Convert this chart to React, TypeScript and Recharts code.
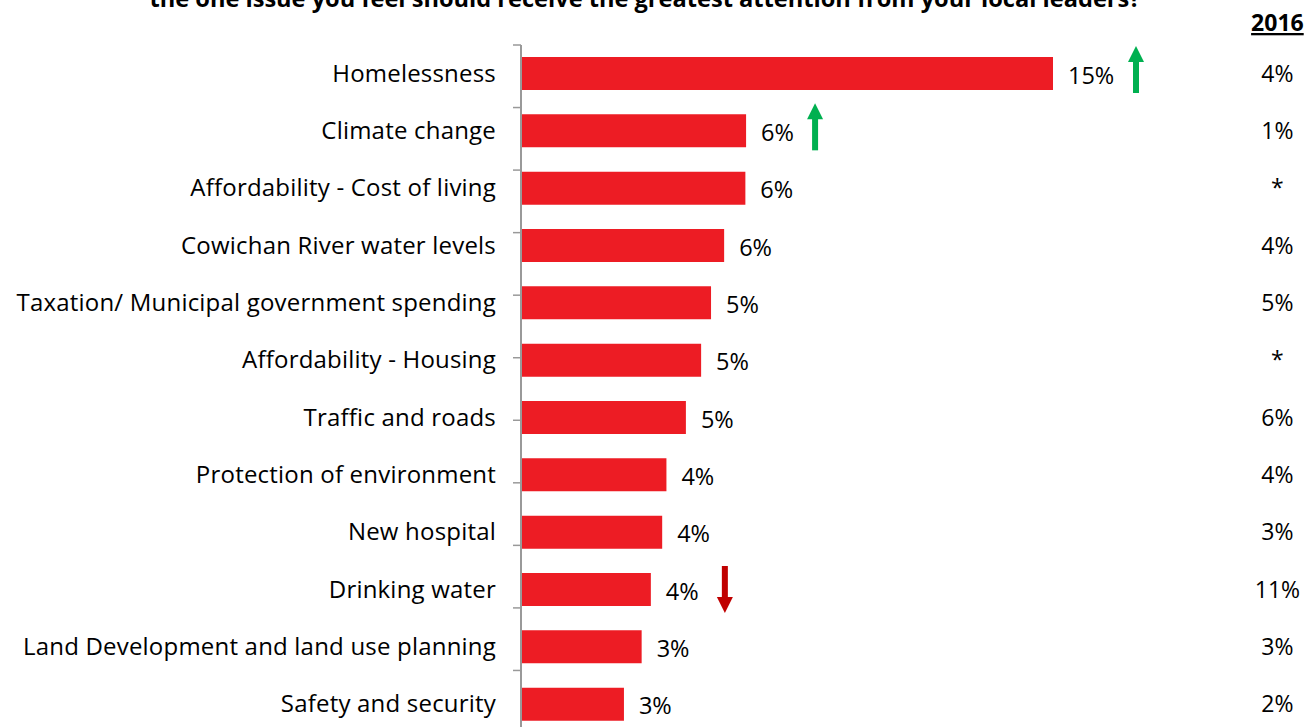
import React from 'react';
import { BarChart, Bar, XAxis, YAxis, LabelList, Label } from 'recharts';

const categories = [
  'Homelessness',
  'Climate change',
  'Affordability - Cost of living',
  'Cowichan River water levels',
  'Taxation/ Municipal government spending',
  'Affordability - Housing',
  'Traffic and roads',
  'Protection of environment',
  'New hospital',
  'Drinking water',
  'Land Development and land use planning',
  'Safety and security',
];
const currentValues = [15.0, 6.33, 6.31, 5.71, 5.34, 5.06, 4.63, 4.08, 3.96, 3.64, 3.38, 2.88];
const values2016 = ['4%', '1%', '*', '4%', '5%', '*', '6%', '4%', '3%', '11%', '3%', '2%'];
const trends = ['up', 'up', '', '', '', '', '', '', '', 'down', '', ''];
const boundaryTicks = [0, 1, 2, 3, 4, 5, 6, 7, 8, 9, 10, 11, 12];
const valueDomain = [0, 16];
const titleText = 'the one issue you feel should receive the greatest attention from your local leaders?';
const prevHeader = '2016';

const data = categories.map((name, i) => ({
  name,
  value: currentValues[i],
  prev: values2016[i],
  trend: trends[i],
}));

const FONT = '"Open Sans", "DejaVu Sans", sans-serif';
const FS = 24;
const LS = 0.2;
const BAR = '#ED1C24';
const UP = '#00B050';
const DOWN = '#C00000';
const AXIS = '#999999';

const CategoryTick = (props: any) => {
  const { x, y, payload } = props;
  return (
    <text x={x} y={y + 8} textAnchor="end" fontFamily={FONT} fontSize={FS} letterSpacing={LS} fill="#000">
      {payload.value}
    </text>
  );
};

const PrevTick = (props: any) => {
  const { x, y, payload } = props;
  return (
    <text x={x + 189} y={y + 8} textAnchor="middle" fontFamily={FONT} fontSize={23} fill="#000">
      {payload.value}
    </text>
  );
};

const HeaderLabel = (props: any) => {
  const vb = props.viewBox || {};
  return (
    <text
      x={vb.x + 189}
      y={vb.y - 14}
      textAnchor="middle"
      fontFamily={FONT}
      fontSize={23}
      fontWeight="bold"
      fill="#000"
      textDecoration="underline"
      style={{ textDecoration: 'underline' }}
    >
      {prevHeader}
    </text>
  );
};

const Arrow = ({ cx, cy, dir, color }: any) => {
  const len = 47;
  const head = 16;
  const headW = 16;
  const shaft = 6;
  if (dir === 'up') {
    const top = cy - len / 2;
    return (
      <g>
        <rect x={cx - shaft / 2} y={top + head - 1} width={shaft} height={len - head + 1} fill={color} />
        <polygon points={`${cx},${top} ${cx - headW / 2},${top + head} ${cx + headW / 2},${top + head}`} fill={color} />
      </g>
    );
  }
  const bottom = cy + len / 2;
  return (
    <g>
      <rect x={cx - shaft / 2} y={cy - len / 2} width={shaft} height={len - head + 1} fill={color} />
      <polygon points={`${cx},${bottom} ${cx - headW / 2},${bottom - head} ${cx + headW / 2},${bottom - head}`} fill={color} />
    </g>
  );
};

const ValueLabel = (props: any) => {
  const { x, y, width, height, value, index } = props;
  const label = `${Math.round(value)}%`;
  const cy = y + height / 2;
  const tx = x + width + 15;
  const textW = 14 * (label.length - 1) + 19;
  const trend = trends[index];
  return (
    <g>
      <text x={tx} y={cy + 10} fontFamily={FONT} fontSize={23.5} fill="#000">
        {label}
      </text>
      {trend === 'up' && <Arrow cx={tx + textW + 21} cy={cy - 4} dir="up" color={UP} />}
      {trend === 'down' && <Arrow cx={tx + textW + 26} cy={cy} dir="down" color={DOWN} />}
    </g>
  );
};

export default function App() {
  return (
    <div
      style={{
        position: 'fixed',
        left: 0,
        top: 0,
        width: 1307,
        height: 727,
        overflow: 'hidden',
        background: '#fff',
      }}
    >
      <svg width={1307} height={40} style={{ position: 'absolute', left: 0, top: 0 }}>
        <text x={645} y={7} textAnchor="middle" fontFamily={FONT} fontSize={23.6} fontWeight="bold" fill="#000">
          {titleText}
        </text>
      </svg>
      <div style={{ position: 'absolute', left: 0, top: 0 }}>
        <BarChart
          layout="vertical"
          width={1307}
          height={745}
          data={data}
          margin={{ top: 45, right: 0, bottom: 12, left: 0 }}
        >
          <XAxis type="number" domain={valueDomain} hide />
          <YAxis
            type="category"
            dataKey="name"
            width={1}
            axisLine={false}
            tickLine={false}
            tickSize={0}
            tickMargin={26}
            interval={0}
            tick={<CategoryTick />}
          />
          <YAxis
            yAxisId="grid"
            type="number"
            domain={[0, 12]}
            ticks={boundaryTicks}
            width={521}
            tickSize={8}
            interval={0}
            allowDataOverflow
            tick={() => <g />}
            tickLine={{ stroke: AXIS, strokeWidth: 1.5 }}
            axisLine={{ stroke: AXIS, strokeWidth: 2 }}
          />
          <YAxis
            yAxisId="prev"
            orientation="right"
            type="category"
            dataKey="prev"
            width={218.6}
            axisLine={false}
            tickLine={false}
            tickSize={0}
            tickMargin={0}
            interval={0}
            tick={<PrevTick />}
          >
            <Label content={<HeaderLabel />} />
          </YAxis>
          <Bar dataKey="value" fill={BAR} barSize={33} isAnimationActive={false}>
            <LabelList dataKey="value" content={<ValueLabel />} />
          </Bar>
        </BarChart>
      </div>
    </div>
  );
}
